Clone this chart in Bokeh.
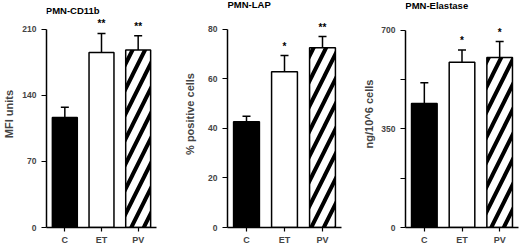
from bokeh.plotting import figure
from bokeh.layouts import row
from bokeh.models import ColumnDataSource, FactorRange, Whisker, TeeHead, FixedTicker
from bokeh.core.properties import value
from bokeh.embed import file_html
from bokeh.resources import INLINE

groups = ["C", "ET", "PV"]

titles = ["PMN-CD11b", "PMN-LAP", "PMN-Elastase"]
ylabels = ["MFI units", "% positive cells", "ng/10^6 cells"]

cd11b_mean = [116.5, 185.5, 188.0]
cd11b_err = [11.0, 20.0, 15.0]
cd11b_stars = ["", "**", "**"]
cd11b_ticks = [0, 70, 140, 210]

lap_mean = [42.7, 62.9, 72.6]
lap_err = [2.2, 6.5, 4.5]
lap_stars = ["", "*", "**"]
lap_ticks = [0, 20, 40, 60, 80]

elastase_mean = [440, 586, 603]
elastase_err = [74, 44, 57]
elastase_stars = ["", "*", "*"]
elastase_ticks = [0, 175, 350, 525, 700]
elastase_labels = {0: "0", 175: "", 350: "350", 525: "", 700: "700"}

FONT = "Liberation Sans"

panels = [
    dict(mean=cd11b_mean, err=cd11b_err, stars=cd11b_stars, ticks=cd11b_ticks, labels=None,
         ymax=210, width=180, left=42, right=24, zero_px=229, top_px=29, title_px=10, lab_standoff=4),
    dict(mean=lap_mean, err=lap_err, stars=lap_stars, ticks=lap_ticks, labels=None,
         ymax=80, width=180, left=47, right=19, zero_px=228, top_px=29, title_px=4, lab_standoff=9),
    dict(mean=elastase_mean, err=elastase_err, stars=elastase_stars, ticks=elastase_ticks,
         labels=elastase_labels, ymax=700, width=160, left=44, right=2, zero_px=229, top_px=30,
         title_px=5, lab_standoff=3),
]

figs = []
for i, cfg in enumerate(panels):
    H = 247
    zero_px = cfg["zero_px"]
    scale = (zero_px - cfg["top_px"]) / cfg["ymax"]
    ytop = zero_px / scale
    p = figure(width=cfg["width"], height=H, x_range=FactorRange(factors=groups, range_padding=0),
               y_range=(0, ytop), output_backend="svg", toolbar_location=None,
               min_border_left=cfg["left"], min_border_right=cfg["right"],
               min_border_top=0, min_border_bottom=H - zero_px)
    p.outline_line_color = None
    p.xgrid.visible = False
    p.ygrid.visible = False
    p.background_fill_color = "white"
    p.border_fill_color = "white"

    upper = [m + e for m, e in zip(cfg["mean"], cfg["err"])]
    src = ColumnDataSource(dict(x=groups, top=cfg["mean"], upper=upper, stars=cfg["stars"],
                                fill=["black", "white", "white"],
                                hatch=[" ", " ", "/"]))
    p.vbar(x="x", top="top", bottom=0, width=0.68, source=src, fill_color="fill",
           line_color="black", line_width=1.5, hatch_pattern="hatch", hatch_color="black",
           hatch_scale=25, hatch_weight=4)
    w = Whisker(base="x", upper="upper", lower="top", source=src, level="underlay",
                line_color="black", line_width=1.5,
                upper_head=TeeHead(size=8, line_color="black", line_width=1.5), lower_head=None)
    p.add_layout(w)
    p.text(x="x", y="upper", text="stars", source=src, text_align="center",
           text_baseline="bottom", y_offset=-4, text_font_size="10px",
           text_font_style="bold", text_color="black", text_font=value(FONT))

    tsrc = ColumnDataSource(dict(x=[groups[0]], y=[(zero_px - cfg["title_px"]) / scale],
                                 t=[titles[i]]))
    p.text(x="x", y="y", text="t", source=tsrc, x_offset=-19, text_align="left",
           text_baseline="middle", text_font=value(FONT), text_font_size="9.5px",
           text_font_style="bold", text_color="black")

    ya = p.yaxis[0]
    ya.bounds = (0, cfg["ymax"])
    ya.ticker = FixedTicker(ticks=cfg["ticks"], minor_ticks=[])
    if cfg["labels"]:
        ya.major_label_overrides = cfg["labels"]
    ya.axis_label = ylabels[i]
    ya.axis_label_text_font = FONT
    ya.axis_label_text_font_size = "11px"
    ya.axis_label_text_font_style = "bold"
    ya.axis_label_standoff = cfg["lab_standoff"]
    ya.major_label_text_font = FONT
    ya.major_label_text_font_size = "8.5px"
    ya.major_label_text_font_style = "bold"
    ya.major_label_standoff = 5
    ya.major_tick_out = 5
    ya.major_tick_in = 0
    ya.axis_line_width = 1.5
    ya.major_tick_line_width = 1.2

    xa = p.xaxis[0]
    xa.major_label_text_font = FONT
    xa.major_label_text_font_size = "9px"
    xa.major_label_text_font_style = "bold"
    xa.major_label_standoff = 3
    xa.major_tick_out = 4
    xa.major_tick_in = 0
    xa.axis_line_width = 1.5
    xa.major_tick_line_width = 1.2

    figs.append(p)

layout = row(*figs, spacing=0)
open("out.html", "w").write(file_html(layout, INLINE))
